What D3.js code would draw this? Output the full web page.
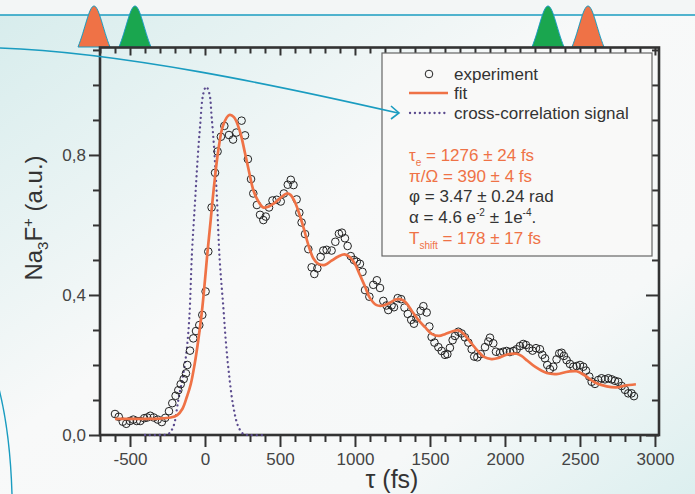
<!DOCTYPE html>
<html>
<head>
<meta charset="utf-8">
<script src="https://cdn.jsdelivr.net/npm/d3@7"></script>
<style>
  body { margin: 0; background: #fff; }
  svg { display: block; font-family: "Liberation Sans", Arial, sans-serif; }
</style>
</head>
<body>
<div id="chart"></div>
<script>
// experiment points: delay (fs) and signal (a.u.)
const expT = [-600,-575,-548,-525,-500,-478,-455,-432,-405,-385,-365,-342,-315,-288,-265,-240,-218,-196,-178,-162,-142,-127,-118,-100,-78,-60,-38,-18,4,22,44,67,84,106,129,160,187,209,244,267,286,307,322,346,367,389,405,427,450,478,505,526,552,572,590,611,629,644,667,689,711,729,749,771,789,811,844,869,893,913,933,951,972,993,1012,1033,1050,1067,1096,1122,1146,1167,1189,1210,1222,1244,1260,1285,1308,1330,1352,1375,1393,1410,1438,1456,1478,1496,1511,1530,1556,1578,1600,1616,1633,1651,1667,1689,1711,1733,1756,1778,1795,1816,1838,1867,1889,1900,1922,1940,1967,1989,2011,2033,2056,2078,2100,2122,2140,2162,2184,2207,2233,2249,2267,2282,2300,2322,2344,2362,2378,2393,2411,2433,2456,2478,2500,2522,2540,2562,2578,2600,2622,2644,2667,2689,2711,2733,2756,2778,2800,2822,2844,2860];
const expV = [0.060,0.052,0.038,0.032,0.040,0.044,0.040,0.040,0.048,0.050,0.055,0.050,0.044,0.037,0.049,0.068,0.091,0.112,0.128,0.145,0.160,0.176,0.200,0.241,0.276,0.297,0.314,0.343,0.410,0.524,0.650,0.749,0.810,0.852,0.883,0.857,0.844,0.864,0.898,0.856,0.788,0.731,0.690,0.657,0.629,0.614,0.624,0.650,0.670,0.672,0.667,0.690,0.715,0.729,0.714,0.673,0.635,0.607,0.574,0.531,0.479,0.460,0.476,0.509,0.527,0.529,0.527,0.552,0.575,0.578,0.562,0.540,0.511,0.500,0.495,0.489,0.466,0.414,0.395,0.429,0.442,0.420,0.383,0.370,0.357,0.370,0.365,0.391,0.388,0.364,0.346,0.329,0.318,0.333,0.355,0.368,0.350,0.310,0.280,0.264,0.251,0.240,0.229,0.231,0.249,0.271,0.283,0.295,0.290,0.279,0.264,0.245,0.224,0.222,0.231,0.251,0.267,0.278,0.262,0.238,0.235,0.238,0.240,0.237,0.240,0.245,0.254,0.260,0.257,0.248,0.241,0.248,0.245,0.229,0.219,0.200,0.188,0.195,0.216,0.233,0.235,0.226,0.214,0.203,0.195,0.197,0.200,0.195,0.184,0.167,0.152,0.146,0.157,0.162,0.159,0.162,0.159,0.155,0.152,0.140,0.129,0.119,0.119,0.111];

// fit curve
const fitT = [-600,-450,-300,-230,-185,-150,-120,-95,-70,-45,-20,0,15,38,60,89,122,162,193,233,267,296,322,356,389,422,467,511,545,570,600,630,660,689,722,756,800,844,889,930,967,1000,1033,1067,1100,1144,1189,1233,1270,1300,1333,1378,1422,1467,1511,1560,1600,1656,1689,1722,1767,1811,1860,1910,1956,2000,2040,2078,2110,2150,2200,2278,2344,2422,2478,2533,2600,2678,2744,2800,2873];
const fitV = [0.046,0.046,0.047,0.050,0.057,0.075,0.110,0.145,0.200,0.270,0.355,0.443,0.515,0.614,0.710,0.814,0.886,0.914,0.908,0.867,0.805,0.748,0.700,0.667,0.650,0.652,0.664,0.680,0.690,0.686,0.665,0.630,0.588,0.543,0.505,0.489,0.486,0.498,0.510,0.516,0.508,0.489,0.457,0.424,0.391,0.371,0.370,0.378,0.387,0.388,0.381,0.355,0.329,0.308,0.289,0.283,0.288,0.297,0.299,0.290,0.267,0.244,0.223,0.217,0.220,0.228,0.232,0.232,0.226,0.212,0.195,0.177,0.174,0.181,0.182,0.170,0.150,0.139,0.136,0.141,0.145];

// cross-correlation signal
const xcT = [-400,-300,-244,-211,-178,-144,-122,-104,-87,-67,-51,-33,-11,8,29,44,60,78,98,122,140,162,189,222,256,300,400];
const xcV = [0,0,0.003,0.024,0.100,0.176,0.243,0.338,0.519,0.662,0.776,0.881,0.976,0.995,0.976,0.910,0.824,0.690,0.500,0.367,0.262,0.167,0.081,0.024,0.003,0,0];

const xMajor = [-500,0,500,1000,1500,2000,2500,3000];
const yMajor = [0,0.4,0.8];
const legendItems = ["experiment","fit","cross-correlation signal"];

const W = 695, H = 494;
const orange = "#ef7246", green = "#1aa64f", teal = "#1a9cc0", ink = "#333", purple = "#5b4b8e";

const svg = d3.select("#chart").append("svg").attr("width", W).attr("height", H);

// background wash
const defs = svg.append("defs");
const grad = defs.append("linearGradient").attr("id", "bg")
    .attr("x1", 0).attr("y1", 0).attr("x2", 1).attr("y2", 1);
grad.append("stop").attr("offset", "0%").attr("stop-color", "#d6ecec");
grad.append("stop").attr("offset", "45%").attr("stop-color", "#f8f9f9");
grad.append("stop").attr("offset", "75%").attr("stop-color", "#f6f8f8");
grad.append("stop").attr("offset", "100%").attr("stop-color", "#dcefef");
svg.append("rect").attr("width", W).attr("height", H).attr("fill", "url(#bg)");
svg.append("rect").attr("width", W).attr("height", 15).attr("fill", "#f3f6f6");

const x = d3.scaleLinear().domain([-700, 3027]).range([100, 659]);
const y = d3.scaleLinear().domain([0, 1.107]).range([435, 47.5]);

// decoration: top line and pulses
svg.append("line").attr("x1", 0).attr("x2", W).attr("y1", 15).attr("y2", 15)
    .attr("stroke", teal).attr("stroke-width", 1.5);
function pulse(cx, col) {
    svg.append("path")
        .attr("d", `M${cx-16},47 C${cx-9},30 ${cx-5},6 ${cx},6 C${cx+5},6 ${cx+9},30 ${cx+16},47 Z`)
        .attr("fill", col).attr("stroke", teal).attr("stroke-width", 1);
}
pulse(94, orange); pulse(135, green); pulse(548, green); pulse(588, orange);

// plot frame ticks
const g = svg.append("g");
const minorX = d3.range(-700, 3001, 100).filter(d => !xMajor.includes(d));
const minorY = d3.range(0, 1.101, 0.1).map(d => +d.toFixed(1)).filter(d => !yMajor.includes(d));

function tickGroup(axis) {
    const a = g.append("g").call(axis);
    a.select(".domain").remove();
    a.selectAll("line").attr("stroke", ink).attr("stroke-width", 2);
    a.selectAll("text").attr("fill", "#444").attr("font-size", 17);
    return a;
}
// bottom
tickGroup(d3.axisBottom(x).tickValues(xMajor).tickSize(12).tickPadding(6).tickFormat(d => String(d)))
    .attr("transform", "translate(0,435)");
tickGroup(d3.axisBottom(x).tickValues(minorX).tickSize(7).tickFormat(""))
    .attr("transform", "translate(0,435)");
// top (inward)
tickGroup(d3.axisBottom(x).tickValues(xMajor).tickSize(8).tickFormat(""))
    .attr("transform", "translate(0,47.5)");
tickGroup(d3.axisBottom(x).tickValues(minorX).tickSize(6).tickFormat(""))
    .attr("transform", "translate(0,47.5)");
// left
tickGroup(d3.axisLeft(y).tickValues(yMajor).tickSize(11).tickPadding(3).tickFormat(d => d.toFixed(1).replace(".", ",")))
    .attr("transform", "translate(100,0)");
tickGroup(d3.axisLeft(y).tickValues(minorY).tickSize(7).tickFormat(""))
    .attr("transform", "translate(100,0)");
// right (inward)
tickGroup(d3.axisRight(y).tickValues(yMajor).tickSize(-13).tickFormat(""))
    .attr("transform", "translate(659,0)");
tickGroup(d3.axisRight(y).tickValues(minorY).tickSize(-7).tickFormat(""))
    .attr("transform", "translate(659,0)");

g.append("rect").attr("x", 100).attr("y", 47.5).attr("width", 559).attr("height", 387.5)
    .attr("fill", "none").attr("stroke", ink).attr("stroke-width", 2.6);

// legend box
const lg = svg.append("g");
lg.append("rect").attr("x", 382).attr("y", 53).attr("width", 270).attr("height", 203)
    .attr("fill", "#f9f9f8").attr("stroke", "#666").attr("stroke-width", 1.2);

// cross-correlation
svg.append("path").datum(d3.zip(xcT, xcV))
    .attr("d", d3.line().x(d => x(d[0])).y(d => y(d[1])).curve(d3.curveCatmullRom.alpha(0.5)))
    .attr("fill", "none").attr("stroke", purple).attr("stroke-width", 2.3)
    .attr("stroke-dasharray", "0.1,4.8").attr("stroke-linecap", "round");

// experiment circles
svg.append("g").selectAll("circle").data(d3.zip(expT, expV)).join("circle")
    .attr("cx", d => x(d[0])).attr("cy", d => y(d[1])).attr("r", 3.8)
    .attr("fill", "none").attr("stroke", "#222").attr("stroke-width", 1);

// fit
svg.append("path").datum(d3.zip(fitT, fitV))
    .attr("d", d3.line().x(d => x(d[0])).y(d => y(d[1])).curve(d3.curveCatmullRom.alpha(0.5)))
    .attr("fill", "none").attr("stroke", orange).attr("stroke-width", 2.7);

// legend entries
lg.append("circle").attr("cx", 429).attr("cy", 74).attr("r", 3.8)
    .attr("fill", "none").attr("stroke", "#222").attr("stroke-width", 1);
lg.append("line").attr("x1", 409).attr("x2", 448).attr("y1", 93).attr("y2", 93)
    .attr("stroke", orange).attr("stroke-width", 2.7);
lg.append("line").attr("x1", 410).attr("x2", 448).attr("y1", 113).attr("y2", 113)
    .attr("stroke", purple).attr("stroke-width", 2.3)
    .attr("stroke-dasharray", "0.1,4.8").attr("stroke-linecap", "round");
[80, 99, 119].forEach((by, i) => {
    lg.append("text").attr("x", 454).attr("y", by).attr("font-size", 17).attr("fill", ink)
        .text(legendItems[i]);
});

function stat(by, col, parts) {
    const t = lg.append("text").attr("x", 409).attr("y", by).attr("font-size", 17).attr("fill", col);
    parts.forEach(p => {
        const s = t.append("tspan").text(p[0]);
        if (p[1] === "sub") s.attr("font-size", 10).attr("dy", 5);
        if (p[1] === "sup") s.attr("font-size", 10).attr("dy", -7);
        if (p[1] === "back") s.attr("dy", p[2]);
    });
}
stat(161, orange, [["τ"], ["e", "sub"], [" =  1276 ± 24 fs", "back", -5]]);
stat(182, orange, [["π/Ω = 390 ± 4 fs"]]);
stat(202, ink, [["φ = 3.47 ± 0.24 rad"]]);
stat(223, ink, [["α = 4.6 e"], ["-2", "sup"], [" ± 1e", "back", 7], ["-4", "sup"], [".", "back", 7]]);
stat(244, orange, [["T"], ["shift", "sub"], [" = 178 ± 17 fs", "back", -5]]);

// arrow curve into legend
svg.append("path").attr("d", "M0,48 C120,52 280,86 398,113")
    .attr("fill", "none").attr("stroke", teal).attr("stroke-width", 1.6);
svg.append("path").attr("d", "M391,106 L399,113 L391,119")
    .attr("fill", "none").attr("stroke", teal).attr("stroke-width", 1.6);
svg.append("path").attr("d", "M-2,385 Q10,430 12,494")
    .attr("fill", "none").attr("stroke", teal).attr("stroke-width", 1.4);

// axis titles
svg.append("text").attr("x", 392).attr("y", 488).attr("text-anchor", "middle")
    .attr("font-size", 25).attr("fill", ink).text("τ (fs)");
const yt = svg.append("text").attr("transform", "translate(42,218) rotate(-90)")
    .attr("text-anchor", "middle").attr("font-size", 24).attr("fill", ink);
yt.append("tspan").text("Na");
yt.append("tspan").text("3").attr("font-size", 15).attr("dy", 6);
yt.append("tspan").text("F").attr("dy", -6);
yt.append("tspan").text("+").attr("font-size", 15).attr("dy", -9);
yt.append("tspan").text(" (a.u.)").attr("dy", 9);
</script>
</body>
</html>
